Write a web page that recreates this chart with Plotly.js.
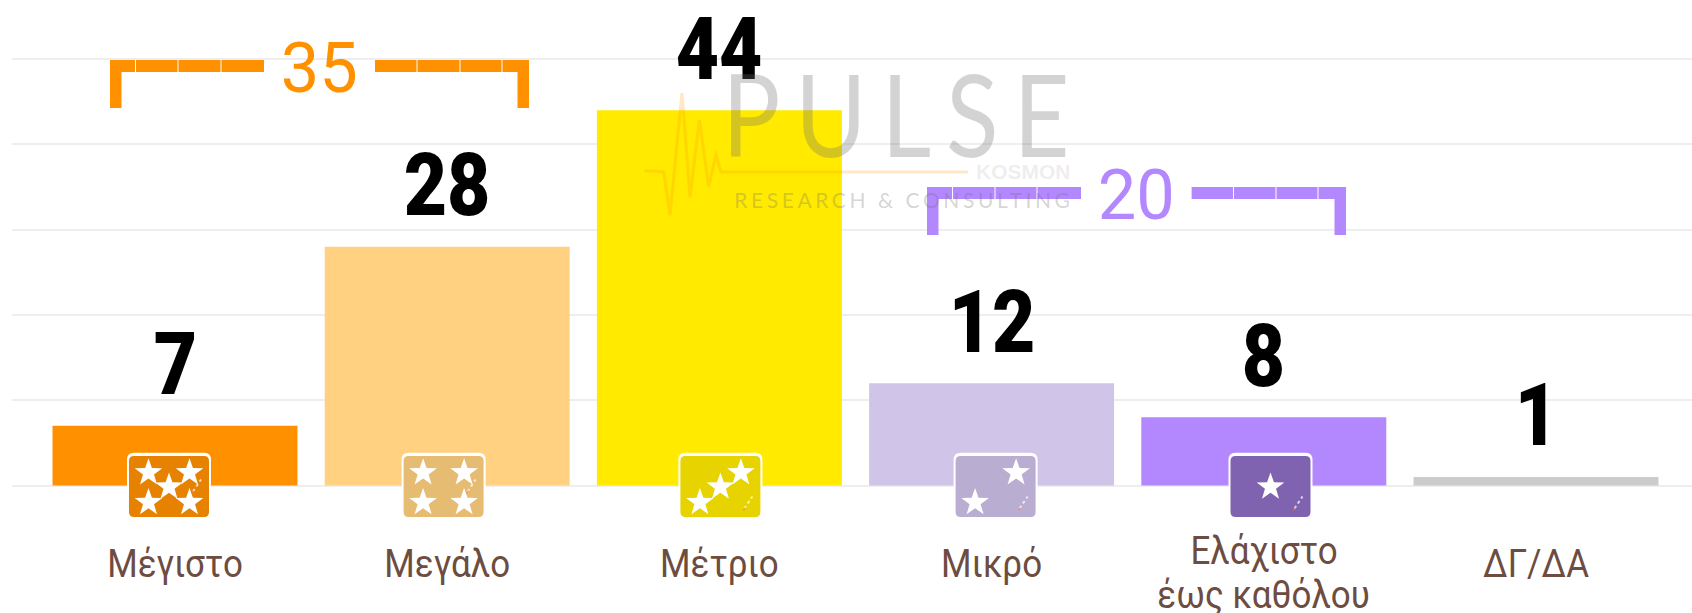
<!DOCTYPE html>
<html><head><meta charset="utf-8">
<script src="https://cdn.plot.ly/plotly-3.0.1.min.js"></script>
<style>html,body{margin:0;padding:0;background:#fff}#c{width:1692px;height:613px}
.xtick{transform-box:fill-box;transform-origin:center;transform:scaleX(0.92)}
</style>
</head><body><div id="c"></div>
<script>
// ---- data ----
const categories = ["Μέγιστο","Μεγάλο","Μέτριο","Μικρό","","ΔΓ/ΔΑ"];
const wrappedLabel = ["Ελάχιστο","έως καθόλου"];
const values = [7,28,44,12,8,1];
const barColors = ["#FF9100","#FFD180","#FFEA00","#D1C4E9","#B388FF","#CCCCCC"];
const badgeColors = ["#E68200","#E6BC73","#E6D300","#B9ADD1","#8063B0"];
const badgeShift = [-6,-3.6,1,4,6.7];
const badgeStars = [
  [[-20.5,12.8],[20.5,12.8],[0,-1.5],[-20.5,-17],[20.5,-17]],
  [[-20.5,12.8],[20.5,12.8],[-20.5,-17],[20.5,-17]],
  [[-20.5,-17],[0,-1.5],[20.5,12.8]],
  [[20.5,12.8],[-20.5,-17]],
  [[0,-1.5]]
];
const featherY = [0,0,-17,-17,-17];
const groups = [
  {label:"35",color:"#FF9100",l:110,r:529,top:60,bot:108,gapL:264,gapR:375,cx:319,seps:[135.5,178,221,417,460,502]},
  {label:"20",color:"#B388FF",l:927,r:1346,top:187,bot:235,gapL:1081,gapR:1191.6,cx:1136,seps:[952.5,995,1037,1233.5,1276,1318]}
];
// ---- geometry ----
const W=1692,H=613,ml=12,plotBottom=525,baseY=485.5,pxPerUnit=8.53,pxPerCat=272.2;
const labelFont="'Roboto',sans-serif";
const px=x=>(x-ml)/(W-ml), py=y=>(plotBottom-y)/plotBottom;
const xMin=-(175-ml)/pxPerCat;
const xMax=xMin+(W-ml)/pxPerCat;
const yMin=-(plotBottom-baseY)/pxPerUnit, yMax=baseY/pxPerUnit;

function rr(x0,x1,y0,y1,r){ // y up, pixels from anchor
  return `M${x0+r},${y1}L${x1-r},${y1}Q${x1},${y1} ${x1},${y1-r}L${x1},${y0+r}Q${x1},${y0} ${x1-r},${y0}L${x0+r},${y0}Q${x0},${y0} ${x0},${y0+r}L${x0},${y1-r}Q${x0},${y1} ${x0+r},${y1}Z`;
}
function star(cx,cy,R){
  let d="";
  for(let k=0;k<10;k++){
    const a=Math.PI/2+k*Math.PI/5, q=k%2?R*0.4:R;
    d+=(k?"L":"M")+(cx+q*Math.cos(a)).toFixed(2)+","+(cy+q*Math.sin(a)).toFixed(2);
  }
  return d+"Z";
}
const shapes=[];
const pixShape=(i,path,extra)=>Object.assign({type:"path",xref:"x",yref:"y",xsizemode:"pixel",ysizemode:"pixel",xanchor:i,yanchor:0,path,line:{width:0}},extra);
badgeColors.forEach((c,i)=>{
  const s=badgeShift[i];
  shapes.push(pixShape(i,rr(s-42,s+42,-31.5,32.8,7),{fillcolor:"#FFFFFF"}));
  shapes.push(pixShape(i,rr(s-40,s+40,-31.5,29.5,5),{fillcolor:c}));
  badgeStars[i].forEach(p=>shapes.push(pixShape(i,star(s+p[0],p[1],14.5),{fillcolor:"#FFFFFF"})));
  const fy=featherY[i];
  shapes.push(pixShape(i,`M${s+24},${fy-6}L${s+32},${fy+6}`,{line:{color:"rgba(255,255,255,0.75)",width:2,dash:"dot"}}));
  shapes.push(pixShape(i,`M${s+23},${fy-8}L${s+25},${fy-5}`,{line:{color:"rgba(255,120,40,0.7)",width:1.2}}));
});
const rect=(x0,x1,y0,y1,color)=>shapes.push({type:"rect",xref:"paper",yref:"paper",x0:px(x0),x1:px(x1),y0:py(y0),y1:py(y1),fillcolor:color,line:{width:0}});
groups.forEach(g=>{
  rect(g.l,g.gapL,g.top,g.top+12,g.color);
  rect(g.gapR,g.r,g.top,g.top+12,g.color);
  rect(g.l,g.l+11.5,g.top,g.bot,g.color);
  rect(g.r-11.5,g.r,g.top,g.bot,g.color);
  g.seps.forEach(x=>rect(x-0.5,x+0.5,g.top,g.top+12,"#FFFFFF"));
});
// watermark pulse line
const pulse=[[644.5,170.7],[663.7,171.7],[670,215],[682,93],[690,197],[699.4,120],[708.7,187],[716,155],[721,172],[968,172]];
shapes.push({type:"path",xref:"paper",yref:"paper",path:"M"+pulse.map(p=>px(p[0])+","+py(p[1])).join("L"),line:{color:"rgba(255,145,0,0.22)",width:3},fillcolor:"rgba(0,0,0,0)"});

const annotations=[];
const css=[];
const styled=(a,rule)=>{ css.push(`.annotation[data-index="${annotations.length}"] text{${rule}}`); annotations.push(a); };
const squeeze=k=>`transform-box:fill-box;transform-origin:center;transform:scaleX(${k});`;
values.forEach((v,i)=>styled({x:i,y:v,xref:"x",yref:"y",text:String(v),showarrow:false,xanchor:"center",yanchor:"bottom",yshift:8.5,
  font:{family:labelFont,size:88,weight:900,color:"#000"}},squeeze(0.85)));
groups.forEach(g=>styled({x:px(g.cx),y:py(g.top+8),xref:"paper",yref:"paper",text:g.label,showarrow:false,xanchor:"center",yanchor:"middle",
  font:{family:"'Roboto',sans-serif",size:70,weight:400,color:g.color}},squeeze(0.98)));
wrappedLabel.forEach((t,k)=>styled({x:4,y:py(551+k*44),xref:"x",yref:"paper",text:t,showarrow:false,xanchor:"center",yanchor:"middle",
  font:{family:labelFont,size:38,color:"#6D4C41"}},squeeze(0.92)));
styled({x:px(903.5),y:py(112),xref:"paper",yref:"paper",text:"PULSE",showarrow:false,xanchor:"center",yanchor:"middle",
  font:{family:"'Lato',sans-serif",size:114,weight:400,color:"rgba(110,110,110,0.3)"}},"letter-spacing:17.5px;"+squeeze(0.85));
styled({x:px(1023.5),y:py(172),xref:"paper",yref:"paper",text:"KOSMON",showarrow:false,xanchor:"center",yanchor:"middle",
  font:{family:"'Liberation Sans',sans-serif",size:21,weight:700,color:"rgba(150,150,150,0.17)"}},"");
styled({x:px(903.5),y:py(199.5),xref:"paper",yref:"paper",text:"RESEARCH & CONSULTING",showarrow:false,xanchor:"center",yanchor:"middle",
  font:{family:"'Lato',sans-serif",size:21,color:"rgba(110,110,110,0.3)"}},"letter-spacing:3.6px;");
const st=document.createElement("style");
st.textContent=css.join("\n");
document.head.appendChild(st);

Plotly.newPlot("c",[{type:"bar",x:categories.map((_,i)=>i),y:values,marker:{color:barColors,line:{width:0}},hoverinfo:"skip"}],{
  width:W,height:H,paper_bgcolor:"#fff",plot_bgcolor:"#fff",showlegend:false,bargap:0.1,
  margin:{l:ml,r:0,t:0,b:H-plotBottom,pad:0},
  xaxis:{range:[xMin,xMax],tickmode:"array",tickvals:categories.map((_,i)=>i),ticktext:categories,ticks:"",showgrid:false,zeroline:false,showline:false,automargin:false,
    ticklabelstandoff:13,tickangle:0,tickfont:{family:labelFont,size:38,color:"#6D4C41"}},
  yaxis:{range:[yMin,yMax],tick0:0,dtick:10,showticklabels:false,ticks:"",gridcolor:"#EEEEEE",gridwidth:2,zeroline:true,zerolinecolor:"#EEEEEE",zerolinewidth:2,showline:false,automargin:false},
  shapes,annotations
},{displayModeBar:false,staticPlot:true});
</script></body></html>
